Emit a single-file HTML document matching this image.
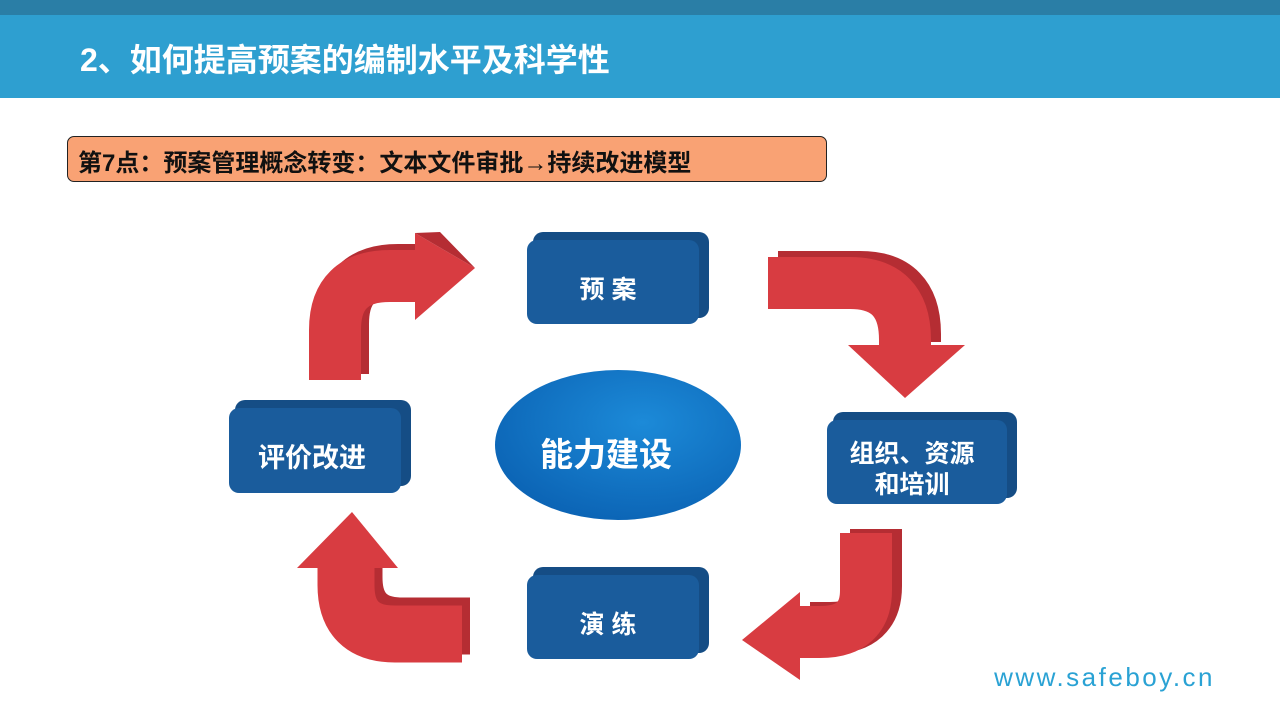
<!DOCTYPE html>
<html><head><meta charset="utf-8"><style>
body{margin:0;width:1280px;height:720px;overflow:hidden;background:#fff;font-family:"Liberation Sans","Noto Sans CJK SC",sans-serif;position:relative}
.t{position:absolute;font-weight:bold;white-space:nowrap}
</style></head><body>
<div style="position:absolute;left:0;top:0;width:1280px;height:15px;background:#2a7ea6"></div>
<div style="position:absolute;left:0;top:15px;width:1280px;height:83px;background:#2e9fd0"></div>
<div class="t" style="left:80px;top:35px;font-size:32px;color:#fff">2、如何提高预案的编制水平及科学性</div>
<div style="position:absolute;left:67px;top:136px;width:758px;height:44px;background:#f9a274;border:1px solid #222;border-radius:7px"></div>
<div class="t" style="left:78px;top:143px;font-size:24px;color:#111">第7点：预案管理概念转变：文本文件审批→持续改进模型</div>
<svg width="1280" height="720" style="position:absolute;left:0;top:0">
<defs>
<radialGradient id="eg" cx="0.6" cy="0.35" r="0.7"><stop offset="0" stop-color="#1c8ad8"/><stop offset="1" stop-color="#0b63b4"/></radialGradient>
</defs>
<g fill="none" stroke-linejoin="miter">
<path d="M335 380 V330 Q335 276 390 276 H425" stroke="#b52d33" stroke-width="52" transform="translate(8,-6)"/>
<path d="M335 380 V330 Q335 276 390 276 H425" stroke="#d83c41" stroke-width="52"/>
<polygon points="415,233 475,268 415,320" fill="#d83c41" stroke="none"/>
<polygon points="415,233 440,232 475,268" fill="#b52d33" stroke="none"/>
<path d="M768 283 H850 Q905 283 905 340 V348" stroke="#b52d33" stroke-width="52" transform="translate(10,-6)"/>
<path d="M768 283 H850 Q905 283 905 340 V348" stroke="#d83c41" stroke-width="52"/>
<polygon points="848,345 965,345 905,398" fill="#d83c41" stroke="none"/>
<path d="M866 533 V590 Q866 632 820 632 H800" stroke="#b52d33" stroke-width="52" transform="translate(10,-4)"/>
<path d="M866 533 V590 Q866 632 820 632 H800" stroke="#d83c41" stroke-width="52"/>
<polygon points="800,592 800,680 742,640" fill="#d83c41" stroke="none"/>
<path d="M462 634 H395 Q346 634 346 585 V568" stroke="#b52d33" stroke-width="57" transform="translate(8,-8)"/>
<path d="M462 634 H395 Q346 634 346 585 V568" stroke="#d83c41" stroke-width="57"/>
<polygon points="297,568 398,568 352,512" fill="#d83c41" stroke="none"/>
</g>
<g>
<rect x="533" y="232" width="176" height="86" rx="10" fill="#154d85"/><rect x="527" y="240" width="172" height="84" rx="10" fill="#1a5c9c"/>
<rect x="833" y="412" width="184" height="86" rx="10" fill="#154d85"/><rect x="827" y="420" width="180" height="84" rx="10" fill="#1a5c9c"/>
<rect x="533" y="567" width="176" height="86" rx="10" fill="#154d85"/><rect x="527" y="575" width="172" height="84" rx="10" fill="#1a5c9c"/>
<rect x="235" y="400" width="176" height="86" rx="10" fill="#154d85"/><rect x="229" y="408" width="172" height="85" rx="10" fill="#1a5c9c"/>
</g>
<ellipse cx="618" cy="445" rx="123" ry="75" fill="url(#eg)"/>
<g fill="#fff" font-weight="bold" font-family="Liberation Sans,Noto Sans CJK SC,sans-serif" text-anchor="middle">
<text x="608" y="298" font-size="25">预 案</text>
<text x="912" y="462" font-size="25">组织、资源</text>
<text x="912" y="493" font-size="25">和培训</text>
<text x="608" y="633" font-size="25">演 练</text>
<text x="312" y="467" font-size="27">评价改进</text>
<text x="606" y="466" font-size="33">能力建设</text>
</g>
<text x="1215" y="686" text-anchor="end" font-size="26" fill="#2aa2d4" font-family="Liberation Sans,sans-serif" letter-spacing="2.5">www.safeboy.cn</text>
</svg>
</body></html>
